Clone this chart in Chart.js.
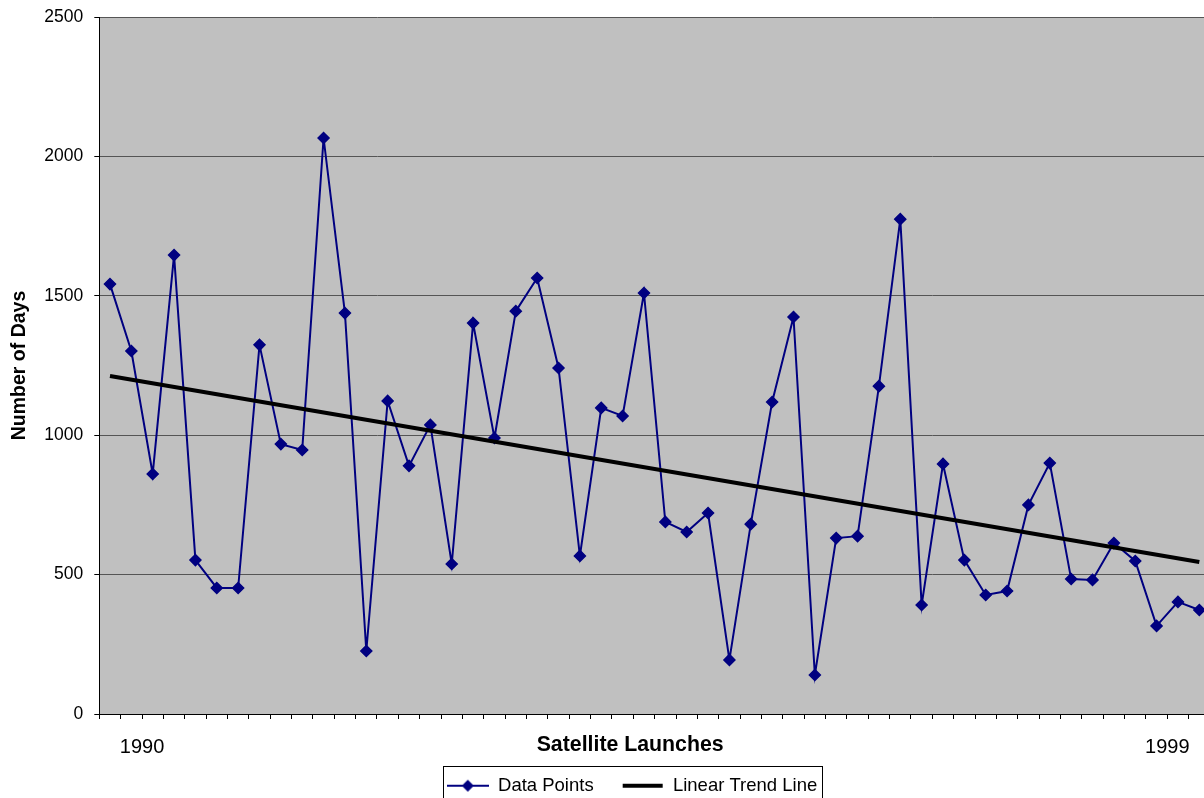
<!DOCTYPE html>
<html>
<head>
<meta charset="utf-8">
<script src="https://cdn.jsdelivr.net/npm/chart.js@4"></script>
<style>
  html, body { margin: 0; padding: 0; background: #fff; overflow: hidden; }
  #wrap { position: relative; width: 1217px; height: 805px; }
</style>
</head>
<body>
<div id="wrap"><canvas id="c" width="1217" height="805"></canvas></div>
<script>
// ---- data ----
const launches = [1,2,3,4,5,6,7,8,9,10,11,12,13,14,15,16,17,18,19,20,21,22,23,24,25,26,
                  27,28,29,30,31,32,33,34,35,36,37,38,39,40,41,42,43,44,45,46,47,48,49,50,51,52];
const daysValues = [1542,1302,861,1646,552,452,452,1324,968,947,2066,1438,226,1123,890,1037,
                    538,1402,990,1445,1564,1241,567,1098,1069,1510,689,653,721,194,681,1119,
                    1424,140,631,638,1176,1775,391,897,552,427,441,750,900,484,481,613,549,316,402,373];
const trendStart = 1212;
const trendEnd = 545;
const yearTickIndex = [2, 50];
const yearTickText = ['1990', '1999'];
const yTicks = [0, 500, 1000, 1500, 2000, 2500];

const trendValues = launches.map((_, i) => i === 0 ? trendStart : (i === launches.length - 1 ? trendEnd : null));

const FONT = "'Liberation Sans', Arial, sans-serif";
Chart.defaults.color = '#000';
Chart.defaults.font.family = FONT;

function makeIcon(kind) {
  const c = document.createElement('canvas');
  c.width = 42; c.height = 14;
  const g = c.getContext('2d');
  if (kind === 'data') {
    g.strokeStyle = '#000080'; g.lineWidth = 2;
    g.beginPath(); g.moveTo(0, 7); g.lineTo(42, 7); g.stroke();
    g.fillStyle = '#000080';
    g.beginPath(); g.moveTo(21, 1); g.lineTo(27, 7); g.lineTo(21, 13); g.lineTo(15, 7); g.closePath(); g.fill();
  } else {
    g.strokeStyle = '#000'; g.lineWidth = 4;
    g.beginPath(); g.moveTo(1, 7); g.lineTo(41, 7); g.stroke();
  }
  return c;
}
const icons = [makeIcon('data'), makeIcon('trend')];

const bgPlugin = {
  id: 'plotBg',
  beforeDraw(chart) {
    const {ctx, chartArea: a} = chart;
    ctx.save();
    ctx.fillStyle = '#C0C0C0';
    ctx.fillRect(a.left, a.top, a.right - a.left, a.bottom - a.top);
    ctx.restore();
  }
};
const shiftPlugin = {
  id: 'shifts',
  afterLayout(chart) {
    const lg = chart.legend;
    if (lg) { lg.left += 47; }
    const sx = chart.scales.x;
    if (sx && !sx._titleWrapped) {
      const orig = sx.drawTitle.bind(sx);
      sx.drawTitle = function () {
        const l = this.left;
        this.left = l - 49;
        orig();
        this.left = l;
      };
      sx._computeLabelArea = function () { return undefined; };
      sx._titleWrapped = true;
    }
  }
};
const legendBox = {
  id: 'legendBox',
  afterDraw(chart) {
    const lg = chart.legend;
    if (!lg || !lg.lineWidths) return;
    const pad = lg.options.labels.padding;
    const firstLeft = (lg.left + pad + lg.right - lg.lineWidths[0]) / 2;
    const lastRight = firstLeft + lg.lineWidths[0] - pad;
    const fs = lg.options.labels.font.size;
    const cy = lg.top + pad + fs / 2;
    const ctx = chart.ctx;
    ctx.save();
    ctx.strokeStyle = '#000';
    ctx.lineWidth = 1;
    ctx.strokeRect(Math.round(firstLeft - 4) + 0.5, Math.round(cy - 20) + 0.5, Math.round(lastRight - firstLeft + 9), 42);
    ctx.restore();
  }
};

new Chart(document.getElementById('c'), {
  type: 'line',
  data: {
    labels: launches,
    datasets: [
      {
        label: 'Data Points',
        data: daysValues,
        borderColor: '#000080',
        backgroundColor: '#000080',
        borderWidth: 2,
        pointStyle: 'rectRot',
        pointRadius: 5.5,
        pointBorderWidth: 1.5,
        pointBackgroundColor: '#000080',
        pointBorderColor: '#000080',
        tension: 0,
        order: 2
      },
      {
        label: 'Linear Trend Line',
        data: trendValues,
        spanGaps: true,
        borderColor: '#000',
        backgroundColor: '#000',
        borderWidth: 4,
        pointRadius: 0,
        tension: 0,
        order: 1
      }
    ]
  },
  options: {
    responsive: false,
    animation: false,
    devicePixelRatio: 1,
    layout: { padding: { top: 17, left: 0, right: 0, bottom: 0 } },
    plugins: {
      tooltip: { enabled: false },
      legend: {
        position: 'bottom',
        labels: {
          usePointStyle: true,
          pointStyleWidth: 42,
          padding: 28,
          font: { size: 18.5, family: FONT },
          color: '#000',
          generateLabels: (chart) => chart.data.datasets.map((ds, i) => ({
            text: ds.label,
            pointStyle: icons[i],
            datasetIndex: i,
            hidden: false,
            lineWidth: 0,
            fillStyle: ds.borderColor,
            strokeStyle: ds.borderColor,
            fontColor: '#000'
          }))
        }
      }
    },
    scales: {
      x: {
        type: 'category',
        offset: true,
        grid: {
          offset: true,
          drawOnChartArea: false,
          drawTicks: true,
          tickLength: 5,
          tickColor: '#000'
        },
        border: { color: '#000', width: 1 },
        ticks: {
          autoSkip: false,
          maxRotation: 0,
          minRotation: 0,
          padding: 16,
          labelOffset: -10.68,
          font: { size: 20, family: FONT },
          color: '#000',
          callback: (val, i) => {
            const k = yearTickIndex.indexOf(i);
            return k >= 0 ? yearTickText[k] : '';
          }
        },
        title: {
          display: true,
          text: 'Satellite Launches',
          font: { size: 21.3, weight: 'bold', family: FONT },
          color: '#000',
          padding: { top: 0, bottom: -9 }
        },
        afterFit: (s) => { s.height = 34.5; s.paddingLeft = 0; s.paddingRight = 0; }
      },
      y: {
        min: 0,
        max: 2500,
        afterBuildTicks: (s) => { s.ticks = yTicks.map(v => ({ value: v })); },
        grid: {
          color: '#555',
          lineWidth: 1,
          tickLength: 5,
          tickColor: '#000'
        },
        border: { color: '#000', width: 1 },
        ticks: {
          padding: 11,
          font: { size: 17.5, family: FONT },
          color: '#000',
          callback: (v) => String(v)
        },
        title: {
          display: true,
          text: 'Number of Days',
          font: { size: 19.5, weight: 'bold', family: FONT },
          color: '#000',
          padding: { top: 8, bottom: 0 }
        },
        afterFit: (s) => { s.width = 99.3; s.paddingTop = 0; s.paddingBottom = 0; }
      }
    }
  },
  plugins: [bgPlugin, shiftPlugin, legendBox]
});
</script>
</body>
</html>
